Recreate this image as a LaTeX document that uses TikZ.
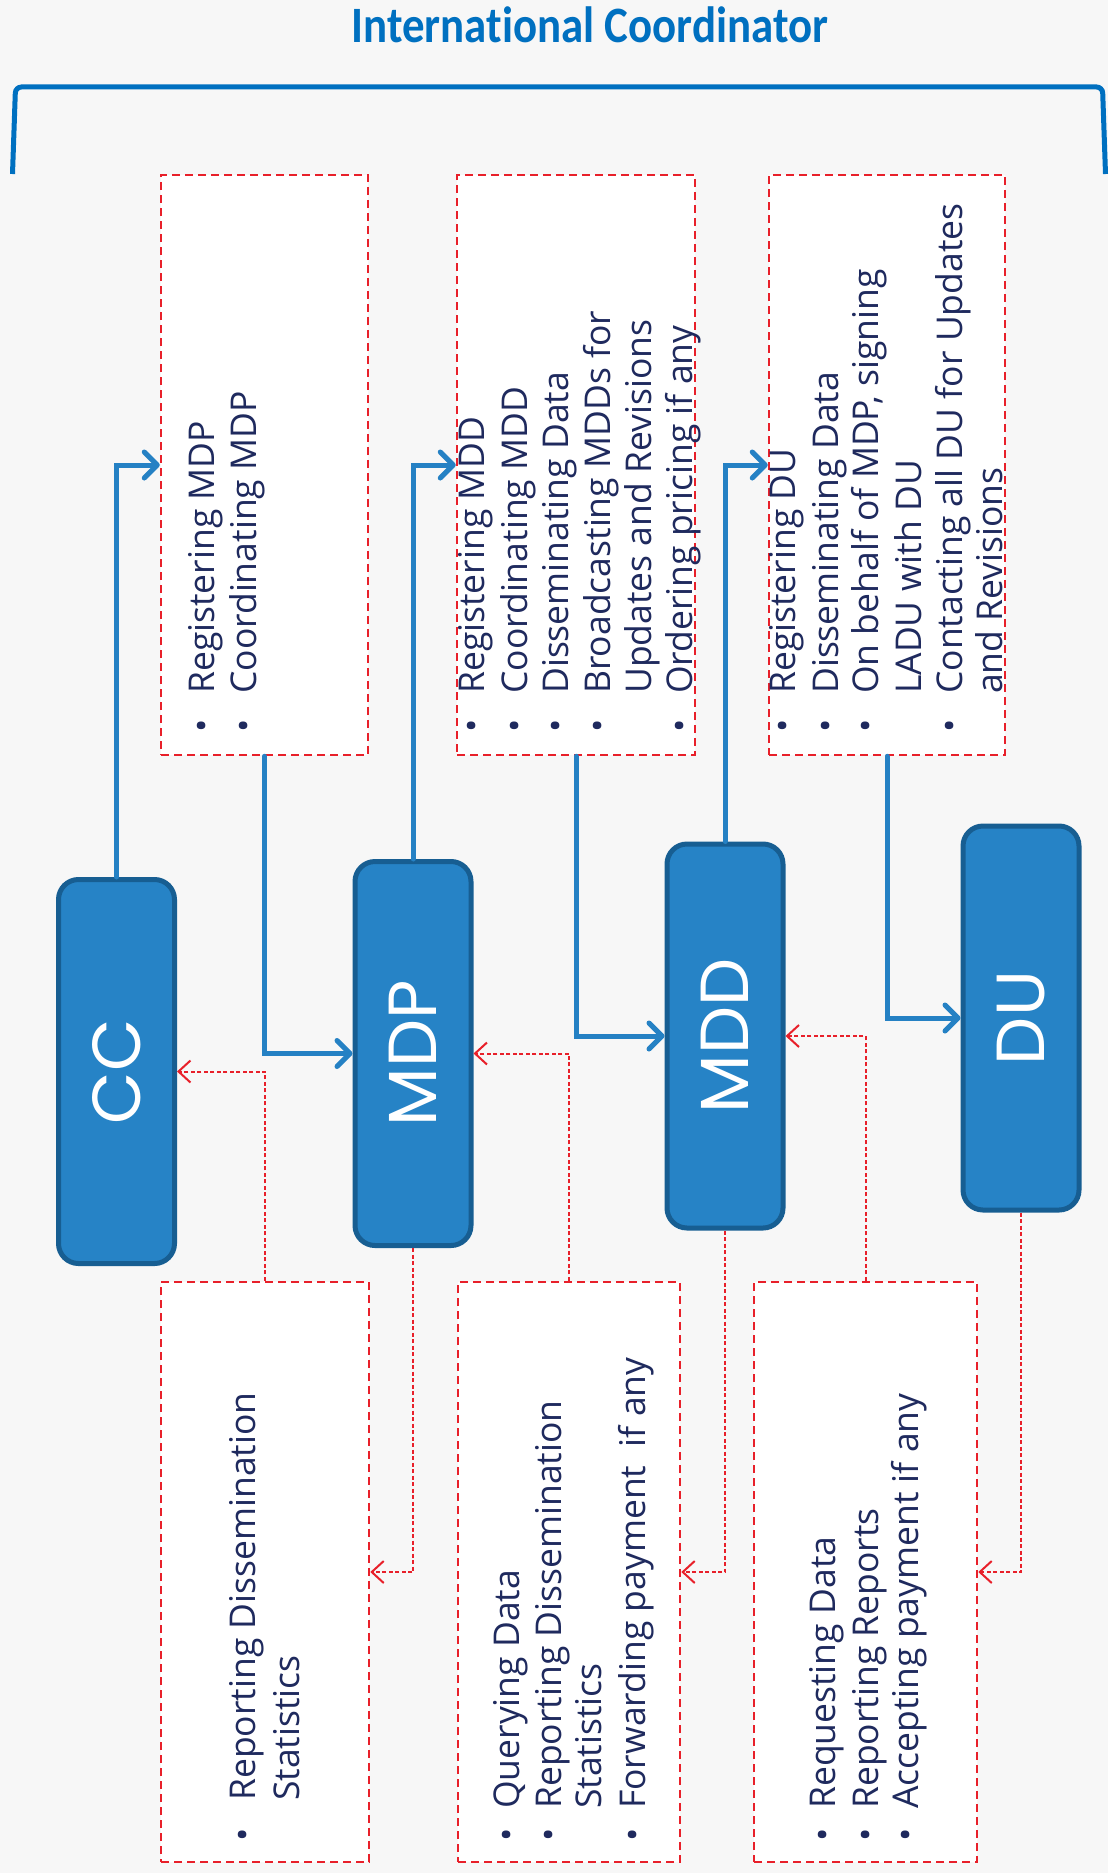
\documentclass[tikz,border=0pt]{standalone}
\usepackage{fontspec}
\setmainfont{Open Sans}
\newfontfamily\titlefont[Ligatures=NoCommon]{Carlito}
\newfontfamily\labelfont{Poppins}
\usetikzlibrary{arrows.meta}

\definecolor{bgc}{HTML}{F7F7F7}
\definecolor{titleblue}{HTML}{0070C0}
\definecolor{boxfill}{HTML}{2683C6}
\definecolor{boxedge}{HTML}{175E92}
\definecolor{conblue}{HTML}{2581C4}
\definecolor{dashred}{HTML}{E8202A}
\definecolor{navy}{HTML}{1F2A5E}

\newcommand{\tline}[4]{\node[tline] (#1) at (#2,#3) {#4};}
\newcommand{\tbul}[3]{\node[tbul] (#1) at (#2,#3) {\textbullet};}

\begin{document}
\begin{tikzpicture}[x=1pt,y=-1pt,
  actor/.style={draw=boxedge, line width=5pt, fill=boxfill, rounded corners=20pt,
    minimum width=116pt, minimum height=384pt, inner sep=0pt, text=white,
    font=\labelfont\fontsize{68}{68}\selectfont},
  taskbox/.style={draw=dashred, line width=2.5pt, dash pattern=on 8pt off 5pt,
    fill=white, minimum height=580pt, inner sep=0pt},
  tline/.style={rotate=90, anchor=base west, inner sep=0pt, text=navy,
    font=\fontsize{35.5}{41}\selectfont},
  tbul/.style={rotate=90, anchor=base, inner sep=0pt, text=navy,
    font=\fontsize{35.5}{41}\selectfont},
  bluearrow/.style={draw=conblue, line width=5pt, line cap=round,
    -{Straight Barb[length=13pt,width=26pt,round]}},
  redarrow/.style={draw=dashred, line width=2pt, dash pattern=on 4pt off 2.5pt,
    -{Straight Barb[length=12pt,width=22pt]}}
]
\useasboundingbox (0,0) rectangle (1108,1873);
\fill[bgc] (0,0) rectangle (1108,1873);

% title and bracket
\node[anchor=base, inner sep=0pt, text=titleblue,
  font=\titlefont\bfseries\fontsize{51}{51}\selectfont] (title) at (590,43)
  {\scalebox{0.88}[1]{International Coordinator}};
\draw[titleblue, line width=5pt, rounded corners=6pt] (12.5,174) -- (15.5,87) -- (1102.5,87) -- (1105.5,174);

% task boxes
\node[taskbox, minimum width=207pt] (A1) at (264.5,465) {};
\node[taskbox, minimum width=238pt] (A2) at (576,465) {};
\node[taskbox, minimum width=236pt] (A3) at (887,465) {};
\node[taskbox, minimum width=208pt] (B1) at (265,1572) {};
\node[taskbox, minimum width=222pt] (B2) at (569,1572) {};
\node[taskbox, minimum width=223pt] (B3) at (865.5,1572) {};

% actors
\node[actor] (CC) at (116.5,1071.5) {\rotatebox{90}{CC}};
\node[actor] (MDP) at (413,1053.5) {\rotatebox{90}{MDP}};
\node[actor] (MDD) at (725,1036) {\rotatebox{90}{MDD}};
\node[actor] (DU) at (1021,1018) {\rotatebox{90}{DU}};

% texts A1
\tbul{a1b1}{214}{726} \tline{a1l1}{214}{694}{Registering MDP}
\tbul{a1b2}{256}{726} \tline{a1l2}{256}{694}{Coordinating MDP}
% texts A2
\tbul{a2b1}{484}{726} \tline{a2l1}{484}{694}{Registering MDD}
\tbul{a2b2}{527}{726} \tline{a2l2}{527}{694}{Coordinating MDD}
\tbul{a2b3}{568}{726} \tline{a2l3}{568}{694}{Disseminating Data}
\tbul{a2b4}{610}{726} \tline{a2l4}{610}{694}{Broadcasting MDDs for}
                      \tline{a2l5}{651}{694}{Updates and Revisions}
\tbul{a2b6}{692}{726} \tline{a2l6}{692}{694}{Ordering pricing if any}
% texts A3
\tbul{a3b1}{795}{726} \tline{a3l1}{795}{694}{Registering DU}
\tbul{a3b2}{838}{726} \tline{a3l2}{838}{694}{Disseminating Data}
\tbul{a3b3}{878}{726} \tline{a3l3}{878}{694}{On behalf of MDP, signing}
                      \tline{a3l4}{921}{694}{LADU with DU}
\tbul{a3b5}{962}{726} \tline{a3l5}{962}{694}{Contacting all DU for Updates}
                      \tline{a3l6}{1002}{694}{and Revisions}
% texts B1
\tbul{b1b1}{255}{1835} \tline{b1l1}{255}{1801}{Reporting Dissemination}
                       \tline{b1l2}{299}{1801}{Statistics}
% texts B2
\tbul{b2b1}{519}{1835} \tline{b2l1}{519}{1809}{Querying Data}
\tbul{b2b2}{561}{1835} \tline{b2l2}{561}{1809}{Reporting Dissemination}
                       \tline{b2l3}{601}{1809}{Statistics}
\tbul{b2b4}{645}{1835} \tline{b2l4}{645}{1809}{Forwarding payment~ if any}
% texts B3
\tbul{b3b1}{835}{1835} \tline{b3l1}{835}{1809}{Requesting Data}
\tbul{b3b2}{878}{1835} \tline{b3l2}{878}{1809}{Reporting Reports}
\tbul{b3b3}{918}{1835} \tline{b3l3}{918}{1809}{Accepting payment if any}

% blue connectors
\draw[bluearrow] (CC.north) |- (A1.west);
\draw[bluearrow] (A1.south) |- (MDP.west);
\draw[bluearrow] (MDP.north) |- (A2.west);
\draw[bluearrow] (A2.south) |- (MDD.west);
\draw[bluearrow] (MDD.north) |- (A3.west);
\draw[bluearrow] (A3.south) |- (DU.west);

% red connectors
\draw[redarrow] (MDP.south) |- (B1.east);
\draw[redarrow] (B1.north) |- (CC.east);
\draw[redarrow] (MDD.south) |- (B2.east);
\draw[redarrow] (B2.north) |- (MDP.east);
\draw[redarrow] (DU.south) |- (B3.east);
\draw[redarrow] (B3.north) |- (MDD.east);
\end{tikzpicture}
\end{document}
